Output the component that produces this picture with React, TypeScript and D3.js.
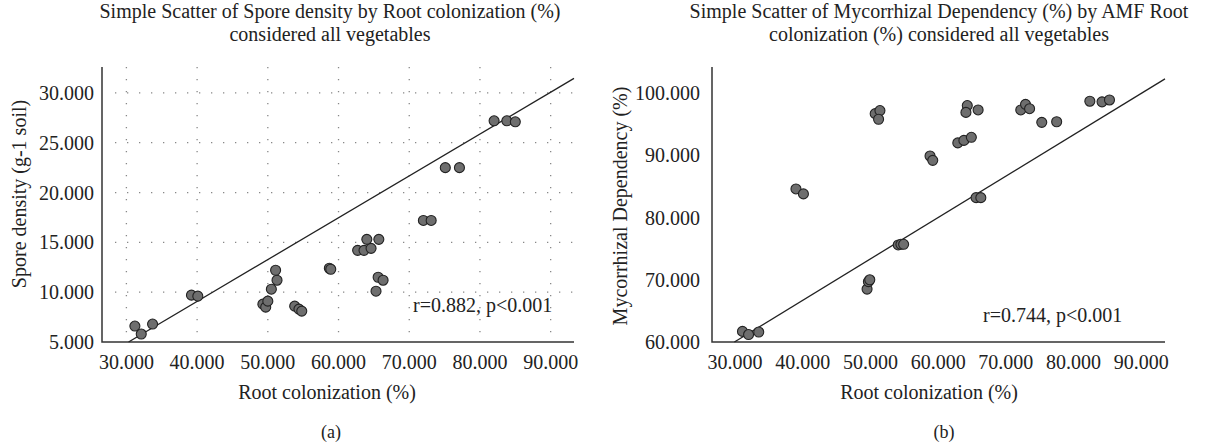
import React from 'react';
import * as d3 from 'd3';

// values
const sporeRootX = [31.2, 32.1, 33.7, 39.2, 40.1, 49.3, 49.7, 50.0, 50.5, 51.3, 51.1, 53.8, 54.4, 54.8, 58.7, 58.9, 62.7, 63.6, 64.6, 64.0, 65.7, 65.3, 65.6, 66.3, 72.0, 73.1, 75.1, 77.1, 82.0, 83.8, 85.0];
const sporeDensity = [6.6, 5.8, 6.8, 9.7, 9.6, 8.8, 8.5, 9.1, 10.3, 11.2, 12.2, 8.6, 8.3, 8.1, 12.4, 12.3, 14.2, 14.2, 14.4, 15.3, 15.3, 10.1, 11.5, 11.2, 17.2, 17.2, 22.5, 22.5, 27.2, 27.2, 27.1];

const mdRootX = [31.1, 32.0, 33.5, 39.0, 40.1, 49.5, 49.7, 49.9, 50.7, 51.4, 51.2, 54.1, 54.5, 54.9, 58.8, 59.2, 62.9, 63.8, 64.9, 64.3, 64.1, 65.9, 65.6, 66.3, 72.2, 72.9, 73.5, 75.3, 77.5, 82.4, 84.2, 85.3];
const mycDependency = [61.7, 61.2, 61.6, 84.6, 83.8, 68.5, 69.7, 70.0, 96.7, 97.2, 95.8, 75.6, 75.7, 75.7, 89.9, 89.2, 92.0, 92.4, 92.9, 98.0, 96.9, 97.3, 83.2, 83.2, 97.3, 98.2, 97.5, 95.3, 95.4, 98.7, 98.6, 98.9];

const xTicks = [30, 40, 50, 60, 70, 80, 90];
const sporeTicks = [5, 10, 15, 20, 25, 30];
const mdTicks = [60, 70, 80, 90, 100];

// fitted lines (slope, intercept) as seen in the picture
const sporeFit = { slope: 0.42, intercept: -7.73 };
const mdFit = { slope: 0.665, intercept: 40.11 };

const font = '"Liberation Serif", "Times New Roman", serif';
const fmt = (v: number) => v.toFixed(3);

interface PanelProps {
  xs: number[];
  ys: number[];
  xRange: [number, number];
  xDomain: [number, number];
  yDomain: [number, number];
  yTicks: number[];
  fit: { slope: number; intercept: number };
  grid: boolean;
  title: string[];
  titleX: number;
  yLabel: string;
  yLabelX: number;
  yLabelY: number;
  xLabelX: number;
  tag: string;
  tagX: number;
  note: string;
  noteX: number;
  noteY: number;
  tickGap: number;
}

function Panel(p: PanelProps) {
  const top = 67, bottom = 342;
  const x = d3.scaleLinear().domain(p.xDomain).range(p.xRange);
  const y = d3.scaleLinear().domain(p.yDomain).range([bottom, top]);

  const { slope, intercept } = p.fit;
  const x0 = Math.max(p.xDomain[0], (p.yDomain[0] - intercept) / slope);
  const x1 = Math.min(p.xDomain[1], (p.yDomain[1] - intercept) / slope);
  const fitLine = d3.line<number>().x(d => x(d)).y(d => y(slope * d + intercept))([x0, x1]);

  return (
    <g fontFamily={font} fill="#222">
      {p.title.map((t, i) => (
        <text key={i} x={p.titleX} y={18 + i * 23} textAnchor="middle" fontSize={20}>{t}</text>
      ))}

      {p.grid && (
        <g stroke="#888" strokeWidth={1.3} strokeDasharray="1.3 10.7">
          {xTicks.map(t => (
            <line key={'v' + t} x1={x(t)} x2={x(t)} y1={top} y2={bottom} />
          ))}
          {p.yTicks.filter(t => t !== p.yDomain[0]).map(t => (
            <line key={'h' + t} x1={p.xRange[0] + 13} x2={p.xRange[1]} y1={y(t)} y2={y(t)} />
          ))}
        </g>
      )}

      <path d={`M${p.xRange[0]},${top}V${bottom}H${p.xRange[1]}`} fill="none" stroke="#333" strokeWidth={1.5} />

      {xTicks.map(t => (
        <text key={'xt' + t} x={x(t)} y={369} textAnchor="middle" fontSize={20}>{fmt(t)}</text>
      ))}
      {p.yTicks.map(t => (
        <text key={'yt' + t} x={p.xRange[0] - p.tickGap} y={y(t)} dy="0.35em" textAnchor="end" fontSize={20}>{fmt(t)}</text>
      ))}

      <path d={fitLine || ''} fill="none" stroke="#222" strokeWidth={1.3} />

      {p.xs.map((v, i) => (
        <circle key={i} cx={x(v)} cy={y(p.ys[i])} r={5} fill="#6e6e6e" stroke="#222" strokeWidth={1.1} />
      ))}

      <text x={p.noteX} y={p.noteY} fontSize={20}>{p.note}</text>

      <text x={p.xLabelX} y={399} textAnchor="middle" fontSize={20}>Root colonization (%)</text>
      <text transform={`translate(${p.yLabelX},${p.yLabelY}) rotate(-90)`} textAnchor="middle" fontSize={20}>{p.yLabel}</text>
      <text x={p.tagX} y={438} textAnchor="middle" fontSize={18}>{p.tag}</text>
    </g>
  );
}

export default function App() {
  return (
    <svg width={1209} height={445} style={{ position: 'absolute', left: 0, top: 0, background: '#fff' }}>
      <Panel
        xs={sporeRootX}
        ys={sporeDensity}
        xRange={[102, 574]}
        xDomain={[26.55, 93.3]}
        yDomain={[5, 32.6]}
        yTicks={sporeTicks}
        fit={sporeFit}
        grid={true}
        title={['Simple Scatter of Spore density by Root colonization (%)', 'considered all vegetables']}
        titleX={330}
        yLabel="Spore density (g-1 soil)"
        yLabelX={26}
        yLabelY={194}
        xLabelX={327}
        tag="(a)"
        tagX={331}
        note="r=0.882, p<0.001"
        noteX={413}
        noteY={312}
        tickGap={8}
      />
      <Panel
        xs={mdRootX}
        ys={mycDependency}
        xRange={[712, 1165]}
        xDomain={[26.6, 93.5]}
        yDomain={[60, 104.2]}
        yTicks={mdTicks}
        fit={mdFit}
        grid={false}
        title={['Simple Scatter of Mycorrhizal Dependency (%) by AMF Root', 'colonization (%) considered all vegetables']}
        titleX={939}
        yLabel="Mycorrhizal Dependency (%)"
        yLabelX={627}
        yLabelY={206}
        xLabelX={929}
        tag="(b)"
        tagX={944}
        note="r=0.744, p<0.001"
        noteX={983}
        noteY={322}
        tickGap={12}
      />
    </svg>
  );
}
